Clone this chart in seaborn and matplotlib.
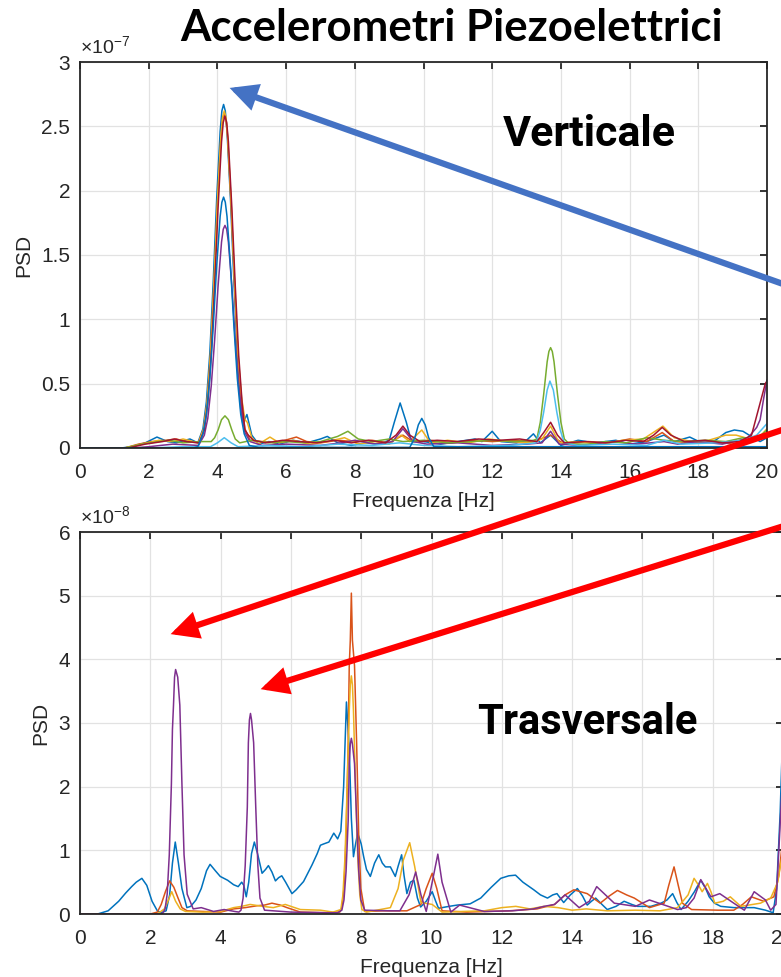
import numpy as np
import pandas as pd
import matplotlib
matplotlib.use("Agg")
import matplotlib.pyplot as plt
from matplotlib.ticker import MultipleLocator, FuncFormatter
from matplotlib.patches import FancyArrowPatch, ArrowStyle
import seaborn as sns

# MATLAB default line colour order
LINE_COLORS = ["#0072BD", "#D95319", "#EDB120", "#7E2F8E", "#77AC30", "#4DBEEE", "#A2142F"]

# ---------------- Vertical channels (PSD in units of 1e-7) ----------------
V_SCALE = 1e-7
V1_HZ = [0, 1.2, 1.5, 1.9, 2.24, 2.55, 2.8, 3.2, 3.43, 3.58, 3.68, 3.78, 3.88, 3.98, 4.08, 4.13, 4.18,
         4.23, 4.28, 4.38, 4.48, 4.58, 4.68, 4.74, 4.86, 5.0, 5.2, 5.5, 5.8, 6.2, 6.6, 7.0, 7.2, 7.5,
         7.9, 8.3, 8.7, 9.0, 9.15, 9.32, 9.5, 9.65, 10.0, 10.5, 11.0, 11.5, 11.7, 12.0, 12.25,
         12.7, 13.0, 13.2, 13.4, 13.7, 14.0, 14.5, 15.0, 15.6, 16.0, 16.5, 17.0, 17.3, 17.75,
         18.1, 18.5, 18.8, 19.05, 19.3, 19.6, 19.8, 20.0]
V1_PSD = [0, 0, 0.01, 0.04, 0.085, 0.05, 0.04, 0.07, 0.04, 0.15, 0.36, 0.74, 1.30, 1.94, 2.46, 2.62, 2.67,
          2.62, 2.46, 1.94, 1.30, 0.74, 0.30, 0.19, 0.26, 0.10, 0.03, 0.05, 0.03, 0.06, 0.04, 0.07, 0.09, 0.04,
          0.02, 0.04, 0.03, 0.06, 0.20, 0.35, 0.20, 0.05, 0.05, 0.03, 0.05, 0.07, 0.05, 0.13, 0.05,
          0.04, 0.06, 0.11, 0.04, 0.10, 0.02, 0.06, 0.04, 0.06, 0.03, 0.05, 0.10, 0.05, 0.085,
          0.04, 0.06, 0.12, 0.14, 0.13, 0.08, 0.05, 0.08]

V2_HZ = [0, 1.3, 1.7, 2.1, 2.5, 2.8, 3.1, 3.45, 3.6, 3.7, 3.8, 3.9, 4.0, 4.1, 4.15, 4.2, 4.25, 4.3,
         4.4, 4.5, 4.6, 4.7, 4.8, 4.95, 5.3, 5.7, 6.3, 6.6, 7.0, 7.5, 8.0, 8.5, 9.0, 9.4, 9.7, 10.2,
         10.8, 11.4, 12.0, 12.6, 13.2, 13.7, 14.1, 14.8, 15.4, 16.0, 16.5, 16.95, 17.3, 17.9, 18.5,
         19.0, 19.5, 20.0]
V2_PSD = [0, 0, 0.03, 0.05, 0.06, 0.07, 0.05, 0.04, 0.15, 0.35, 0.72, 1.27, 1.89, 2.40, 2.55, 2.60,
          2.55, 2.40, 1.89, 1.27, 0.72, 0.35, 0.15, 0.06, 0.05, 0.04, 0.085, 0.05, 0.04, 0.06, 0.05,
          0.06, 0.04, 0.10, 0.05, 0.06, 0.04, 0.06, 0.05, 0.06, 0.05, 0.10, 0.03, 0.05, 0.04, 0.07,
          0.05, 0.12, 0.05, 0.04, 0.05, 0.03, 0.06, 0.10]

V3_HZ = [0, 1.3, 1.8, 2.3, 2.7, 3.0, 3.45, 3.6, 3.7, 3.8, 3.9, 4.0, 4.1, 4.15, 4.2, 4.25, 4.3, 4.4,
         4.5, 4.6, 4.7, 4.8, 4.87, 5.0, 5.2, 5.53, 5.8, 6.2, 6.7, 7.2, 7.7, 8.1, 8.6, 9.0, 9.35, 9.6,
         9.95, 10.2, 10.7, 11.3, 11.9, 12.5, 13.1, 13.45, 13.7, 13.95, 14.5, 15.2, 15.8, 16.4, 16.97,
         17.3, 17.8, 18.3, 18.8, 19.1, 19.5, 19.8, 20.0]
V3_PSD = [0, 0, 0.03, 0.06, 0.05, 0.07, 0.04, 0.15, 0.35, 0.73, 1.28, 1.90, 2.42, 2.57, 2.62, 2.57,
          2.42, 1.90, 1.28, 0.73, 0.40, 0.22, 0.20, 0.08, 0.03, 0.085, 0.04, 0.06, 0.03, 0.05, 0.08,
          0.03, 0.05, 0.03, 0.10, 0.05, 0.14, 0.04, 0.06, 0.04, 0.07, 0.05, 0.04, 0.07, 0.17, 0.04,
          0.05, 0.03, 0.06, 0.07, 0.17, 0.08, 0.05, 0.06, 0.10, 0.10, 0.07, 0.09, 0.15]

V4_HZ = [0, 1.5, 2.0, 2.7, 3.45, 3.62, 3.72, 3.82, 3.92, 4.02, 4.12, 4.17, 4.22, 4.27, 4.32, 4.42,
         4.52, 4.62, 4.72, 4.8, 4.95, 5.3, 6.0, 7.0, 7.6, 8.0, 8.6, 9.1, 9.4, 9.7, 10.1, 11.0, 12.0,
         13.0, 13.45, 13.7, 13.95, 14.6, 15.5, 16.2, 17.0, 17.4, 18.0, 18.7, 19.2, 19.45, 19.7, 19.8,
         19.9, 20.0]
V4_PSD = [0, 0, 0.01, 0.03, 0.02, 0.10, 0.23, 0.48, 0.84, 1.26, 1.60, 1.70, 1.73, 1.70, 1.60, 1.26,
          0.84, 0.48, 0.25, 0.12, 0.05, 0.02, 0.03, 0.02, 0.04, 0.06, 0.03, 0.05, 0.15, 0.05, 0.03,
          0.04, 0.02, 0.03, 0.04, 0.13, 0.03, 0.02, 0.05, 0.03, 0.05, 0.03, 0.05, 0.03, 0.06, 0.08,
          0.16, 0.22, 0.38, 0.53]

V5_HZ = [0, 1.3, 1.8, 2.3, 2.6, 3.0, 3.5, 3.82, 3.92, 4.02, 4.12, 4.22, 4.32, 4.42, 4.52, 4.65,
         5.0, 5.5, 6.0, 6.5, 7.0, 7.5, 7.8, 8.1, 8.5, 9.0, 9.4, 10.0, 10.7, 11.4, 12.0, 12.7,
         13.2, 13.3, 13.4, 13.5, 13.6, 13.65, 13.7, 13.75, 13.8, 13.9, 14.0, 14.1, 14.25, 14.8,
         15.3, 15.9, 16.5, 17.0, 17.6, 18.2, 18.8, 19.3, 19.7, 20.0]
V5_PSD = [0, 0, 0.03, 0.05, 0.06, 0.04, 0.05, 0.05, 0.08, 0.14, 0.22, 0.25, 0.22, 0.14, 0.07, 0.04,
          0.06, 0.04, 0.05, 0.04, 0.05, 0.09, 0.13, 0.07, 0.05, 0.07, 0.05, 0.06, 0.04, 0.05, 0.06,
          0.05, 0.06, 0.07, 0.20, 0.42, 0.67, 0.75, 0.78, 0.75, 0.67, 0.42, 0.20, 0.07, 0.03, 0.03,
          0.05, 0.04, 0.08, 0.06, 0.05, 0.06, 0.05, 0.08, 0.07, 0.14]

V6_HZ = [0, 2.0, 3.0, 3.8, 4.0, 4.2, 4.4, 4.6, 5.5, 6.5, 7.5, 8.5, 9.3, 10.0, 11.0, 12.5, 13.28,
         13.4, 13.5, 13.6, 13.68, 13.78, 13.88, 13.98, 14.1, 14.5, 15.5, 16.5, 17.0, 17.5, 18.5,
         19.3, 19.7, 20.0]
V6_PSD = [0, 0, 0.01, 0.01, 0.04, 0.08, 0.04, 0.01, 0.02, 0.01, 0.03, 0.02, 0.04, 0.02, 0.01, 0.02,
          0.04, 0.14, 0.28, 0.45, 0.52, 0.45, 0.28, 0.14, 0.04, 0.02, 0.03, 0.02, 0.06, 0.03, 0.04,
          0.06, 0.10, 0.19]

V7_HZ = [0, 1.4, 1.9, 2.4, 2.75, 3.1, 3.47, 3.62, 3.72, 3.82, 3.92, 4.02, 4.12, 4.17, 4.22, 4.27,
         4.32, 4.42, 4.52, 4.62, 4.72, 4.8, 4.9, 5.05, 5.4, 5.9, 6.4, 6.9, 7.4, 7.9, 8.4, 8.9, 9.2,
         9.4, 9.6, 9.9, 10.4, 11.0, 11.6, 12.2, 12.8, 13.3, 13.5, 13.7, 13.9, 14.1, 14.7, 15.3, 15.9,
         16.4, 16.7, 16.95, 17.2, 17.6, 18.2, 18.7, 19.2, 19.55, 19.75, 19.95, 20.0]
V7_PSD = [0, 0, 0.03, 0.05, 0.07, 0.05, 0.04, 0.14, 0.35, 0.72, 1.26, 1.87, 2.38, 2.53, 2.58, 2.53,
          2.38, 1.87, 1.26, 0.72, 0.35, 0.14, 0.10, 0.06, 0.04, 0.06, 0.05, 0.04, 0.06, 0.04, 0.06,
          0.04, 0.10, 0.17, 0.10, 0.05, 0.06, 0.05, 0.07, 0.06, 0.07, 0.05, 0.12, 0.20, 0.10, 0.04,
          0.05, 0.04, 0.06, 0.05, 0.10, 0.16, 0.10, 0.05, 0.06, 0.04, 0.05, 0.10, 0.30, 0.50, 0.52]

V8_HZ = [0, 3.3, 3.43, 3.58, 3.68, 3.78, 3.88, 3.98, 4.08, 4.13, 4.18, 4.23, 4.28, 4.38, 4.48, 4.58,
         4.68, 4.78, 4.93, 5.2, 9.6, 9.75, 9.85, 9.95, 10.05, 10.15, 10.3, 20.0]
V8_PSD = [0, 0, 0.01, 0.11, 0.26, 0.54, 0.95, 1.42, 1.80, 1.91, 1.95, 1.91, 1.80, 1.42, 0.95, 0.54,
          0.26, 0.11, 0.02, 0.005, 0.005, 0.08, 0.18, 0.23, 0.18, 0.08, 0.01, 0.01]

# ---------------- Transverse channels (PSD in units of 1e-8) ----------------
T_SCALE = 1e-8
T1_HZ = [0, 0.5, 0.8, 1.1, 1.3, 1.47, 1.6, 1.76, 1.9, 2.05, 2.2, 2.3, 2.45, 2.55, 2.63, 2.71, 2.8,
         2.9, 3.04, 3.15, 3.3, 3.45, 3.6, 3.7, 3.85, 3.99, 4.2, 4.37, 4.5, 4.6, 4.66, 4.73, 4.8,
         4.88, 4.96, 5.05, 5.18, 5.28, 5.36, 5.46, 5.56, 5.65, 5.74, 5.85, 6.03, 6.15, 6.36, 6.6,
         6.75, 6.84, 6.93, 7.08, 7.22, 7.33, 7.42, 7.5, 7.58, 7.66, 7.72, 7.78, 7.84, 7.9, 8.0,
         8.07, 8.15, 8.26, 8.38, 8.5, 8.6, 8.69, 8.83, 8.97, 9.05, 9.15, 9.22, 9.3, 9.4, 9.5, 9.6,
         9.69, 9.85, 10.02, 10.12, 10.2, 10.5, 10.73, 11.1, 11.4, 11.7, 11.97, 12.2, 12.39, 12.6,
         12.91, 13.1, 13.3, 13.45, 13.57, 13.76, 13.95, 14.15, 14.3, 14.43, 14.55, 14.67, 14.85,
         15.0, 15.25, 15.48, 15.7, 15.86, 16.24, 16.53, 16.7, 16.86, 16.98, 17.1, 17.3, 17.48,
         17.66, 17.8, 17.9, 18.05, 18.23, 18.61, 19.18, 19.5, 19.72, 19.82, 19.92, 20.0]
T1_PSD = [0, 0, 0.05, 0.2, 0.33, 0.43, 0.5, 0.56, 0.45, 0.2, 0.05, 0.02, 0.05, 0.3, 0.8, 1.13, 0.8,
          0.4, 0.1, 0.12, 0.22, 0.4, 0.68, 0.78, 0.68, 0.59, 0.53, 0.46, 0.43, 0.5, 0.45, 0.27, 0.5,
          0.95, 1.13, 0.95, 0.64, 0.7, 0.76, 0.66, 0.52, 0.57, 0.6, 0.5, 0.32, 0.38, 0.51, 0.77,
          0.95, 1.08, 1.1, 1.13, 1.27, 1.18, 1.3, 2.0, 3.33, 2.6, 1.5, 0.9, 1.1, 1.27, 1.1,
          0.9, 0.7, 0.59, 0.8, 0.93, 0.8, 0.74, 0.74, 0.59, 0.75, 0.93, 0.6, 0.32, 0.5, 0.53, 0.25,
          0.11, 0.2, 0.35, 0.2, 0.09, 0.12, 0.14, 0.16, 0.25, 0.42, 0.56, 0.6, 0.61, 0.5,
          0.38, 0.3, 0.25, 0.3, 0.32, 0.18, 0.3, 0.4, 0.28, 0.14, 0.2, 0.25, 0.15,
          0.07, 0.12, 0.2, 0.15, 0.12, 0.12, 0.17, 0.22, 0.32, 0.18, 0.07, 0.2, 0.35,
          0.53, 0.4, 0.27, 0.17, 0.12, 0.1, 0.1, 0.06, 0.02, 0.4, 1.6, 3.0]

T2_HZ = [0, 2.0, 2.2, 2.31, 2.43, 2.55, 2.67, 2.79, 2.9, 3.05, 3.5, 4.0, 4.37, 4.7, 5.04, 5.25,
         5.46, 5.7, 5.89, 6.27, 7.0, 7.39, 7.45, 7.51, 7.57, 7.63, 7.66, 7.69, 7.72, 7.75, 7.81,
         7.87, 7.93, 7.99, 8.1, 8.6, 9.3, 9.7, 9.85, 10.02, 10.15, 10.3, 11.0, 12.2, 13.0, 13.5,
         13.8, 14.05, 14.43, 14.8, 15.05, 15.29, 15.55, 15.77, 16.2, 16.62, 16.75, 16.9, 17.02,
         17.14, 17.4, 18.15, 18.6, 18.85, 19.1, 19.45, 19.74, 19.88, 20.0]
T2_PSD = [0, 0, 0.03, 0.15, 0.35, 0.52, 0.42, 0.25, 0.1, 0.05, 0.04, 0.03, 0.08, 0.1, 0.13, 0.14,
          0.17, 0.14, 0.1, 0.03, 0.02, 0.03, 0.1, 0.4, 1.22, 2.68, 3.9, 4.3, 5.04, 4.3, 3.9, 2.68,
          1.22, 0.4, 0.04, 0.05, 0.05, 0.15, 0.4, 0.64, 0.4, 0.05, 0.03, 0.05, 0.08, 0.15, 0.3,
          0.38, 0.32, 0.17, 0.28, 0.37, 0.3, 0.25, 0.1, 0.17, 0.45, 0.74, 0.45, 0.17, 0.07,
          0.06, 0.06, 0.15, 0.27, 0.2, 0.27, 0.6, 1.2]

T3_HZ = [0, 2.2, 2.4, 2.5, 2.61, 2.72, 2.85, 3.0, 3.5, 4.0, 4.37, 4.6, 4.84, 5.2, 5.5, 5.84, 6.27,
         6.84, 7.2, 7.42, 7.48, 7.54, 7.6, 7.66, 7.69, 7.72, 7.75, 7.78, 7.84, 7.9, 7.96, 8.02,
         8.15, 8.83, 9.05, 9.2, 9.38, 9.52, 9.7, 10.02, 10.3, 11.5, 12.0, 12.4, 12.8, 13.2, 13.6,
         14.0, 14.4, 15.0, 15.8, 16.5, 17.0, 17.3, 17.47, 17.6, 17.7, 17.85, 17.95, 18.06, 18.3,
         18.5, 18.8, 19.36, 19.65, 19.85, 20.0]
T3_PSD = [0, 0, 0.08, 0.2, 0.35, 0.2, 0.08, 0.04, 0.03, 0.04, 0.1, 0.12, 0.15, 0.12, 0.1, 0.15, 0.07,
          0.06, 0.03, 0.07, 0.3, 0.91, 1.99, 3.19, 3.6, 3.74, 3.6, 3.19, 1.99, 0.91, 0.3, 0.07,
          0.03, 0.1, 0.4, 0.85, 1.12, 0.75, 0.18, 0.15, 0.03, 0.05, 0.1, 0.12, 0.08, 0.12, 0.1,
          0.06, 0.08, 0.05, 0.06, 0.05, 0.1, 0.3, 0.56, 0.45, 0.35, 0.48, 0.35, 0.17, 0.2,
          0.27, 0.12, 0.17, 0.25, 0.5, 1.0]

T4_HZ = [0, 2.3, 2.36, 2.42, 2.48, 2.54, 2.6, 2.63, 2.66, 2.69, 2.72, 2.78, 2.84, 2.9, 2.96, 3.05,
         3.22, 3.45, 3.8, 4.1, 4.4, 4.52, 4.58, 4.64, 4.7, 4.76, 4.79, 4.82, 4.85, 4.88, 4.94, 5.0,
         5.06, 5.12, 5.25, 6.0, 7.0, 7.33, 7.39, 7.45, 7.51, 7.57, 7.63, 7.66, 7.69, 7.72, 7.75,
         7.81, 7.87, 7.93, 7.99, 8.1, 8.8, 9.1, 9.36, 9.55, 9.7, 9.85, 10.02, 10.18, 10.3, 10.55,
         10.8, 11.5, 12.3, 12.9, 13.2, 13.5, 13.8, 14.2, 14.49, 14.7, 15.2, 15.8, 16.2, 17.0,
         17.25, 17.47, 17.66, 17.95, 18.2, 18.6, 18.9, 19.18, 19.5, 19.65, 19.8, 19.9, 20.0]
T4_PSD = [0, 0, 0.02, 0.08, 0.31, 0.93, 2.04, 2.9, 3.28, 3.72, 3.84, 3.72, 3.28, 2.04, 0.93, 0.31, 0.08,
          0.1, 0.04, 0.07, 0.04, 0.03, 0.06, 0.25, 0.76, 1.68, 2.69, 3.05, 3.15, 3.05, 2.69, 1.68,
          0.76, 0.25, 0.06, 0.03, 0.02, 0.02, 0.04, 0.06, 0.22, 0.67, 1.47, 2.36, 2.67, 2.76,
          2.67, 2.36, 1.47, 0.67, 0.22, 0.06, 0.05, 0.05, 0.3, 0.66, 0.3, 0.04, 0.5, 0.94, 0.5,
          0.03, 0.14, 0.04, 0.05, 0.08, 0.12, 0.15, 0.3, 0.1, 0.2, 0.43, 0.17, 0.12, 0.22, 0.07,
          0.1, 0.25, 0.54, 0.27, 0.32, 0.17, 0.06, 0.35, 0.22, 0.06, 0.15, 1.2, 2.3, 3.0]

VERT_CHANNELS = {"V1": (V1_HZ, V1_PSD), "V2": (V2_HZ, V2_PSD), "V3": (V3_HZ, V3_PSD),
                 "V4": (V4_HZ, V4_PSD), "V5": (V5_HZ, V5_PSD), "V6": (V6_HZ, V6_PSD),
                 "V7": (V7_HZ, V7_PSD), "V8": (V8_HZ, V8_PSD)}
TRAS_CHANNELS = {"T1": (T1_HZ, T1_PSD), "T2": (T2_HZ, T2_PSD),
                 "T3": (T3_HZ, T3_PSD), "T4": (T4_HZ, T4_PSD)}

X_TICKS = list(range(0, 21, 2))


def to_frame(channels, scale):
    rows = []
    for name, (hz, psd) in channels.items():
        for f, p in zip(hz, psd):
            rows.append((name, f, p * scale))
    return pd.DataFrame(rows, columns=["canale", "freq", "psd"])


sns.set_theme(style="white")
plt.rcParams["font.family"] = ["Liberation Sans", "DejaVu Sans"]
plt.rcParams["mathtext.fontset"] = "custom"
plt.rcParams["mathtext.rm"] = "Liberation Sans"
plt.rcParams["mathtext.it"] = "Liberation Sans:italic"

W, H = 781, 977
fig = plt.figure(figsize=(W / 100, H / 100), dpi=100)
fig.patch.set_facecolor("white")

ax_v = fig.add_axes([80 / W, 1 - 448 / H, 687 / W, 386 / H])
ax_t = fig.add_axes([80 / W, 1 - 914 / H, 703 / W, 382 / H])

TEXT_C = "#262626"


def draw_panel(ax, channels, scale, ymax, ystep, exponent):
    df = to_frame(channels, scale)
    names = list(channels.keys())
    palette = {n: LINE_COLORS[i % len(LINE_COLORS)] for i, n in enumerate(names)}
    sns.lineplot(data=df, x="freq", y="psd", hue="canale", hue_order=names,
                 palette=palette, estimator=None, sort=False, legend=False,
                 linewidth=1.1, ax=ax)
    ax.set_xlim(0, 20)
    ax.set_ylim(0, ymax * scale)
    ax.set_xticks(X_TICKS)
    ax.yaxis.set_major_locator(MultipleLocator(ystep * scale))
    ax.yaxis.set_major_formatter(FuncFormatter(lambda v, _: f"{round(v / scale, 6):g}"))
    ax.grid(True, color="#E2E2E2", linewidth=0.9)
    ax.set_axisbelow(True)
    ax.tick_params(direction="in", length=5, width=1.3, top=True, right=True,
                   colors=TEXT_C, labelsize=15)
    ax.tick_params(axis="x", pad=11)
    ax.tick_params(axis="y", pad=7)
    for s in ax.spines.values():
        s.set_color(TEXT_C)
        s.set_linewidth(1.3)
    ax.set_xlabel("Frequenza [Hz]", fontsize=15, color=TEXT_C, labelpad=7)
    ax.set_ylabel("PSD", fontsize=15, color=TEXT_C, labelpad=6)
    ax.text(0.0, 1.012, r"$\times10^{%d}$" % exponent, transform=ax.transAxes,
            ha="left", va="bottom", fontsize=14, color=TEXT_C)


draw_panel(ax_v, VERT_CHANNELS, V_SCALE, 3, 0.5, -7)
draw_panel(ax_t, TRAS_CHANNELS, T_SCALE, 6, 1, -8)


def px(x, y):
    return (x / W, 1 - y / H)


fig.text(*px(452, 28), "Accelerometri Piezoelettrici", ha="center", va="center",
         fontsize=31.5, fontweight="bold", family="Lato", color="black")
fig.text(*px(589, 135), "Verticale", ha="center", va="center",
         fontsize=31, fontweight="bold", family="Roboto", color="black")
fig.text(*px(587, 723), "Trasversale", ha="center", va="center",
         fontsize=30, fontweight="bold", family="Roboto", color="black")

ARROWS = [((800, 290), (227, 87), "#4472C4"),
          ((800, 424), (168, 635), "#FF0000"),
          ((800, 521), (258, 690), "#FF0000")]
for start, tip, color in ARROWS:
    arr = FancyArrowPatch(px(*start), px(*tip), transform=fig.transFigure,
                          arrowstyle=ArrowStyle("-|>", head_length=1.0, head_width=0.5),
                          mutation_scale=13, linewidth=4.5, color=color,
                          shrinkA=0, shrinkB=2, joinstyle="miter", zorder=10)
    fig.add_artist(arr)

fig.savefig("out.png", dpi=100, facecolor="white")
